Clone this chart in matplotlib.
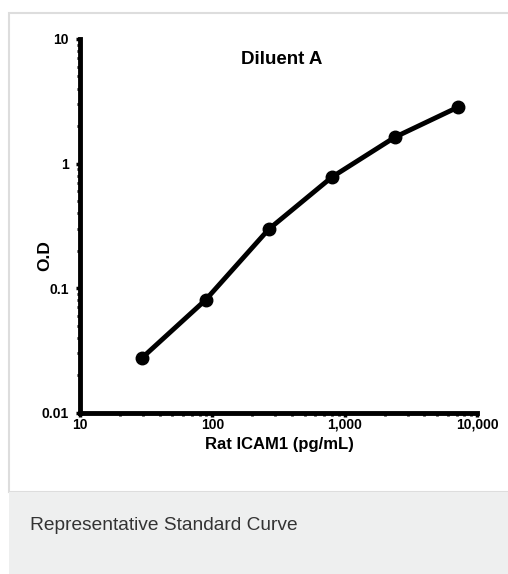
import numpy as np
from matplotlib import pyplot as plt
from matplotlib.patches import Rectangle
from matplotlib.ticker import FixedLocator, LogLocator, NullFormatter

conc = [29.6, 88.9, 266.7, 800, 2400, 7200]
od = [0.0277, 0.0804, 0.297, 0.778, 1.63, 2.84]

x_ticks = [10, 100, 1000, 10000]
x_tick_labels = ["10", "100", "1,000", "10,000"]
y_ticks = [0.01, 0.1, 1, 10]
y_tick_labels = ["0.01", "0.1", "1", "10"]

narrow = ["Liberation Sans Narrow", "Liberation Sans", "DejaVu Sans"]

fig = plt.figure(figsize=(5.08, 5.74), dpi=100)
W, H = 508, 574

# frame around the chart and grey caption band
fig.patches.append(Rectangle((9 / W, (H - 492) / H), 1.0, (492 - 13) / H,
                             transform=fig.transFigure, facecolor="white",
                             edgecolor="#dddddd", linewidth=1.5, zorder=-2))
fig.patches.append(Rectangle((9 / W, 0), 1.0, (H - 492) / H,
                             transform=fig.transFigure, facecolor="#eeefef",
                             edgecolor="none", zorder=-1))
fig.text(30 / W, (H - 526) / H, "Representative Standard Curve",
         fontsize=13.8, color="#333333", va="center", ha="left",
         family=["Liberation Sans", "DejaVu Sans"])

ax = fig.add_axes([80 / W, (H - 412.7) / H, (477 - 80) / W, (412.7 - 39) / H])
ax.set_facecolor("none")
ax.plot(conc, od, color="black", linewidth=3.5, marker="o", markersize=9,
        solid_capstyle="round")

ax.set_xscale("log")
ax.set_yscale("log")
ax.set_xlim(10, 10000)
ax.set_ylim(0.01, 10)

ax.xaxis.set_major_locator(FixedLocator(x_ticks))
ax.set_xticklabels(x_tick_labels)
ax.yaxis.set_major_locator(FixedLocator(y_ticks))
ax.set_yticklabels(y_tick_labels)
ax.xaxis.set_minor_locator(LogLocator(base=10, subs=np.arange(2, 10)))
ax.yaxis.set_minor_locator(LogLocator(base=10, subs=np.arange(2, 10)))
ax.xaxis.set_minor_formatter(NullFormatter())
ax.yaxis.set_minor_formatter(NullFormatter())

for s in ["top", "right"]:
    ax.spines[s].set_visible(False)
for s in ["left", "bottom"]:
    ax.spines[s].set_linewidth(3.5)

ax.tick_params(which="major", direction="out", length=3, width=2.5)
ax.tick_params(which="minor", direction="out", length=2.5, width=2)
ax.tick_params(axis="x", which="major", pad=0.5)
ax.tick_params(axis="y", which="major", pad=5)
for lab in ax.get_xticklabels() + ax.get_yticklabels():
    lab.set_family(narrow)
    lab.set_fontweight("bold")
    lab.set_fontsize(10)

ax.set_xlabel("Rat ICAM1 (pg/mL)", family=narrow, fontweight="bold",
              fontsize=12)
ax.xaxis.set_label_coords(0.503, -0.066)
ax.set_ylabel("O.D", family=narrow, fontweight="bold", fontsize=12.5)
ax.yaxis.set_label_coords(-0.07, 0.42)
ax.set_title("Diluent A", family=narrow, fontweight="bold", fontsize=13.5,
             x=0.5075, y=0.91)

fig.savefig("out.png", dpi=100)
